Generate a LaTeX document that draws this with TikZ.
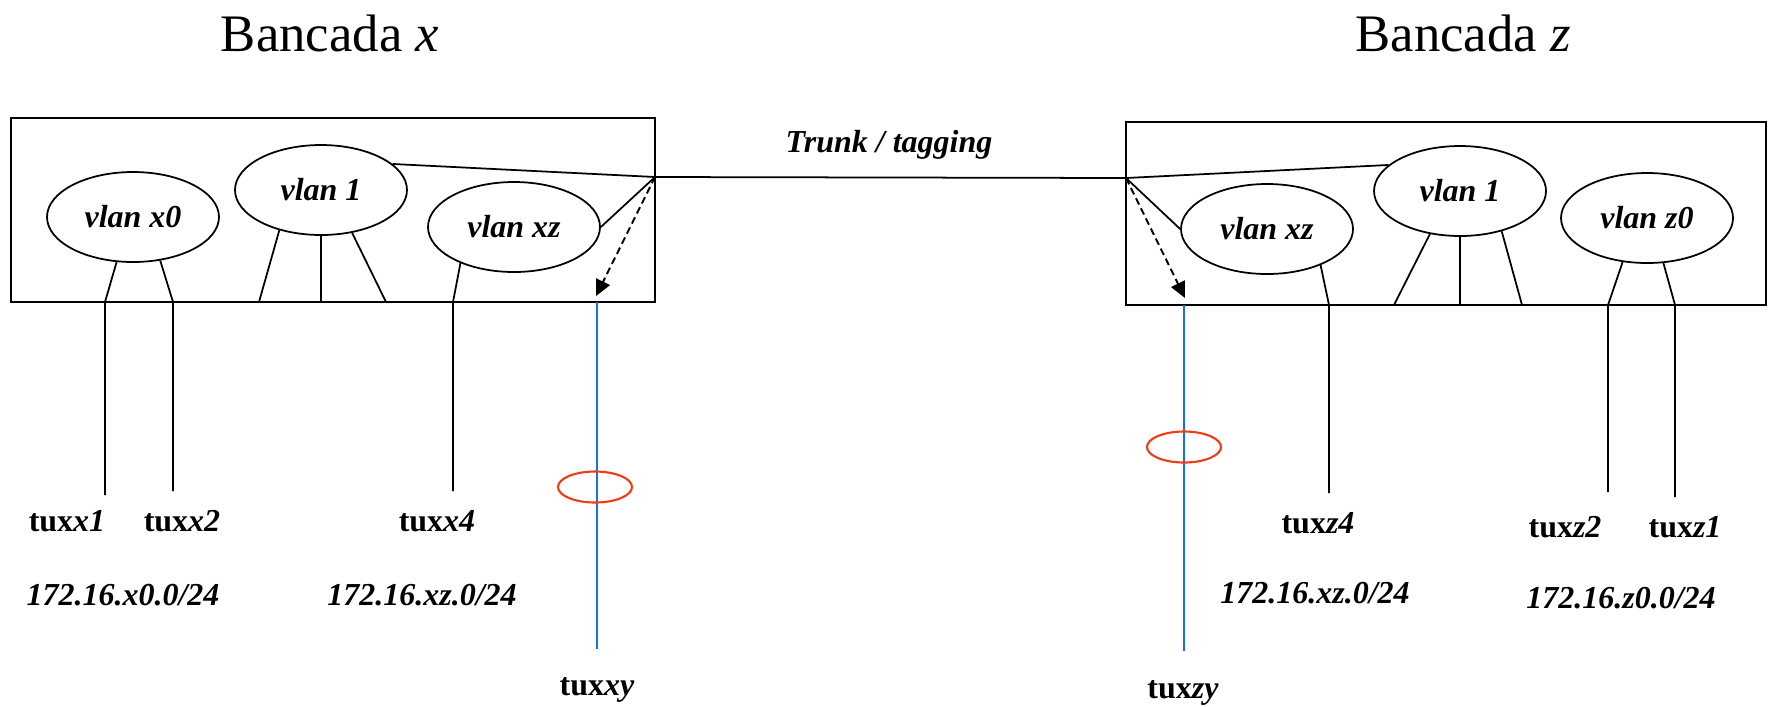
\documentclass[tikz,border=0pt]{standalone}
\usepackage{fontspec}
\setmainfont{Liberation Serif}
\usetikzlibrary{shapes,arrows.meta}

\definecolor{tagblue}{RGB}{25,110,235}
\definecolor{ringred}{RGB}{240,60,20}

\tikzset{
  bench/.style={line width=0.6pt},
  link/.style={line width=0.5pt},
  vlan/.style={ellipse, draw, line width=0.5pt, minimum width=17.2mm, minimum height=9mm,
    inner sep=0pt, font=\fontsize{9.1}{11}\selectfont\bfseries\itshape},
  host/.style={anchor=base, inner sep=0pt, font=\fontsize{9.1}{11}\selectfont\bfseries},
  net/.style={anchor=base, inner sep=0pt, font=\fontsize{9.1}{11}\selectfont\bfseries\itshape},
  title/.style={anchor=base, inner sep=0pt, font=\fontsize{15}{18}\selectfont},
  tagarrow/.style={line width=0.55pt, dash pattern=on 2pt off 1.2pt, -{Triangle[length=1.6mm,width=1.5mm]}},
  tagged/.style={draw=tagblue, line width=0.45pt},
  ring/.style={ellipse, draw=ringred, line width=0.6pt, minimum width=7.4mm, minimum height=3.1mm, inner sep=0pt}
}

\begin{document}
\begin{tikzpicture}[x=0.1mm,y=-0.1mm]
\useasboundingbox (0,0) rectangle (1769,706);

\node[title] (benchx) at (330,51) {Bancada \textit{x}};
\node[title] (benchz) at (1463,51) {Bancada \textit{z}};

% bancada x
\draw [bench] (11,118) rectangle (655,302);
\coordinate (trunkx) at (655,177);
\node[vlan] (ax0) at (133,217) {vlan x0};
\node[vlan] (a1) at (321,190) {vlan 1};
\node[vlan] (axz) at (514,227) {vlan xz};

\coordinate (px1) at (105,302);  \coordinate (tx1) at (105,495);
\coordinate (px2) at (173,302);  \coordinate (tx2) at (173,491);
\coordinate (pa1) at (259,302);  \coordinate (pa2) at (321,302);  \coordinate (pa3) at (386,302);
\coordinate (px4) at (453,302);  \coordinate (tx4) at (453,491);
\coordinate (pxy) at (597,302);  \coordinate (txy) at (597,649);
\coordinate (arrx) at (596,296);

\draw [link] (ax0.250) -- (px1) -- (tx1);
\draw [link] (ax0.302) -- (px2) -- (tx2);
\draw [link] (a1.224) -- (pa1);
\draw [link] (a1.south) -- (pa2);
\draw [link] (a1.306) -- (pa3);
\draw [link] (axz.214) -- (px4) -- (tx4);
\draw [link] (a1.20) -- (trunkx) -- (axz.east);
\draw [tagarrow] (trunkx) -- (arrx);
\draw [tagged] (pxy) -- (txy);
\node[ring] (ringx) at (595,487) {};

\node[host] (tuxx1) at (67,531) {tux\textit{x1}};
\node[host] (tuxx2) at (182,531) {tux\textit{x2}};
\node[host] (tuxx4) at (437,531) {tux\textit{x4}};
\node[host] (tuxxy) at (597,695) {tux\textit{xy}};
\node[net] (netx0) at (123,605) {172.16.x0.0/24};
\node[net] (netxz) at (422,605) {172.16.xz.0/24};

% trunk
\coordinate (trunkz) at (1126,178);
\draw [link] (trunkx) -- (trunkz);
\node[net] (trunk) at (889,152) {Trunk / tagging};

% bancada z
\draw [bench] (1126,122) rectangle (1766,305);
\node[vlan] (bxz) at (1267,229) {vlan xz};
\node[vlan] (b1) at (1460,191) {vlan 1};
\node[vlan] (bz0) at (1647,218) {vlan z0};

\coordinate (pzy) at (1184,305);  \coordinate (tzy) at (1184,651);
\coordinate (pz4) at (1329,305);  \coordinate (tz4) at (1329,493);
\coordinate (pb1) at (1394,305);  \coordinate (pb2) at (1460,305);  \coordinate (pb3) at (1522,305);
\coordinate (pz2) at (1608,305);  \coordinate (tz2) at (1608,492);
\coordinate (pz1) at (1675,305);  \coordinate (tz1) at (1675,497);
\coordinate (arrz) at (1185,298);

\draw [link] (b1.160) -- (trunkz) -- (bxz.west);
\draw [tagarrow] (trunkz) -- (arrz);
\draw [link] (bxz.326) -- (pz4) -- (tz4);
\draw [link] (b1.235) -- (pb1);
\draw [link] (b1.south) -- (pb2);
\draw [link] (b1.316) -- (pb3);
\draw [link] (bz0.241) -- (pz2) -- (tz2);
\draw [link] (bz0.290) -- (pz1) -- (tz1);
\draw [tagged] (pzy) -- (tzy);
\node[ring] (ringz) at (1184,447) {};

\node[host] (tuxz4) at (1318,533) {tux\textit{z4}};
\node[host] (tuxz2) at (1565,537) {tux\textit{z2}};
\node[host] (tuxz1) at (1685,537) {tux\textit{z1}};
\node[host] (tuxzy) at (1183,698) {tux\textit{zy}};
\node[net] (netxz2) at (1315,603) {172.16.xz.0/24};
\node[net] (netz0) at (1621,608) {172.16.z0.0/24};
\end{tikzpicture}
\end{document}
